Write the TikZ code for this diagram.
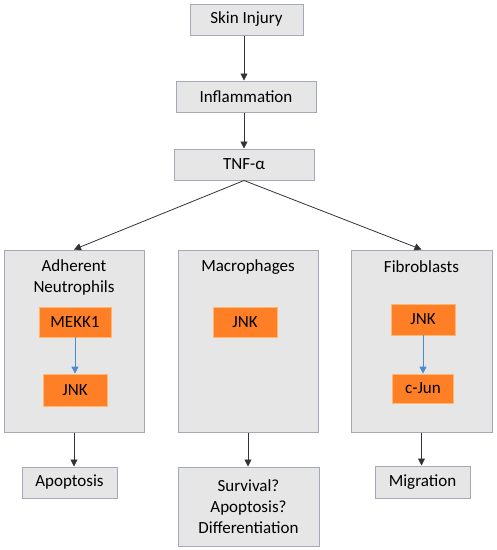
\documentclass[tikz,border=0pt]{standalone}
\usepackage{fontspec}
\setmainfont{Carlito}
\usetikzlibrary{arrows.meta}
\definecolor{boxgray}{HTML}{E7E6E6}
\definecolor{boxedge}{HTML}{A3AAB6}
\definecolor{orfill}{HTML}{FF7F27}
\definecolor{oredge}{HTML}{FFB870}
\definecolor{arrblue}{HTML}{4A8AD0}
\definecolor{arrgray}{HTML}{333333}
\tikzset{
  graybox/.style={draw=boxedge, line width=1pt, fill=boxgray, inner sep=0pt, align=center, font=\fontsize{17}{21}\selectfont},
  orbox/.style={draw=oredge, line width=0.8pt, fill=orfill, inner sep=0pt, align=center, font=\fontsize{17}{21}\selectfont},
  lbl/.style={inner sep=0pt, align=center, font=\fontsize{17}{21}\selectfont},
  blk/.style={draw=arrgray, line width=0.8pt, -{Triangle[length=7pt,width=7pt]}},
  blu/.style={draw=arrblue, line width=0.8pt, -{Triangle[length=7pt,width=7pt]}}
}
\begin{document}
\begin{tikzpicture}[x=1pt,y=-1pt]
\useasboundingbox (0,0) rectangle (497,550);
\node[graybox, minimum width=113pt, minimum height=31pt] (skin) at (246.5,19.5) {Skin Injury};
\node[graybox, minimum width=140pt, minimum height=31pt] (infl) at (246,96.5) {Inflammation};
\node[graybox, minimum width=140pt, minimum height=31pt] (tnf) at (244,164.5) {TNF-α};
\node[graybox, minimum width=140pt, minimum height=182pt] (lp) at (74,341) {};
\node[graybox, minimum width=140pt, minimum height=182pt] (mp) at (248,341) {};
\node[graybox, minimum width=141pt, minimum height=182pt] (rp) at (421.5,341) {};
\node[lbl] (lt) at (74,277.5) {Adherent\\Neutrophils};
\node[lbl] (mt) at (248,267) {Macrophages};
\node[lbl] (rt) at (421.5,267) {Fibroblasts};
\node[orbox, minimum width=72pt, minimum height=30pt] (mekk) at (75,322) {MEKK1};
\node[orbox, minimum width=64pt, minimum height=32pt] (jnkl) at (75,390) {JNK};
\node[orbox, minimum width=64pt, minimum height=30pt] (jnkm) at (245,322) {JNK};
\node[orbox, minimum width=64pt, minimum height=31pt] (jnkr) at (423,319.5) {JNK};
\node[orbox, minimum width=61pt, minimum height=29pt] (cjun) at (423,388.5) {c-Jun};
\node[graybox, minimum width=95pt, minimum height=31pt] (apop) at (69.5,482.5) {Apoptosis};
\node[graybox, minimum width=141pt, minimum height=79pt] (surv) at (248.5,506.5) {Survival?\\Apoptosis?\\Differentiation};
\node[graybox, minimum width=95pt, minimum height=32pt] (migr) at (422.5,482) {Migration};
\draw[blk] (skin.south -| 244,0) -- (infl.north -| 244,0);
\draw[blk] (infl.south -| 244,0) -- (tnf.north -| 244,0);
\draw[blk] (tnf.south) -- (lp.north);
\draw[blk] (tnf.south) -- (rp.north);
\draw[blu] (mekk.south) -- (jnkl.north);
\draw[blu] (jnkr.south) -- (cjun.north);
\draw[blk] (lp.south) -- (lp.south |- apop.north);
\draw[blk] (mp.south) -- (mp.south |- surv.north);
\draw[blk] (rp.south) -- (rp.south |- migr.north);
\end{tikzpicture}
\end{document}
